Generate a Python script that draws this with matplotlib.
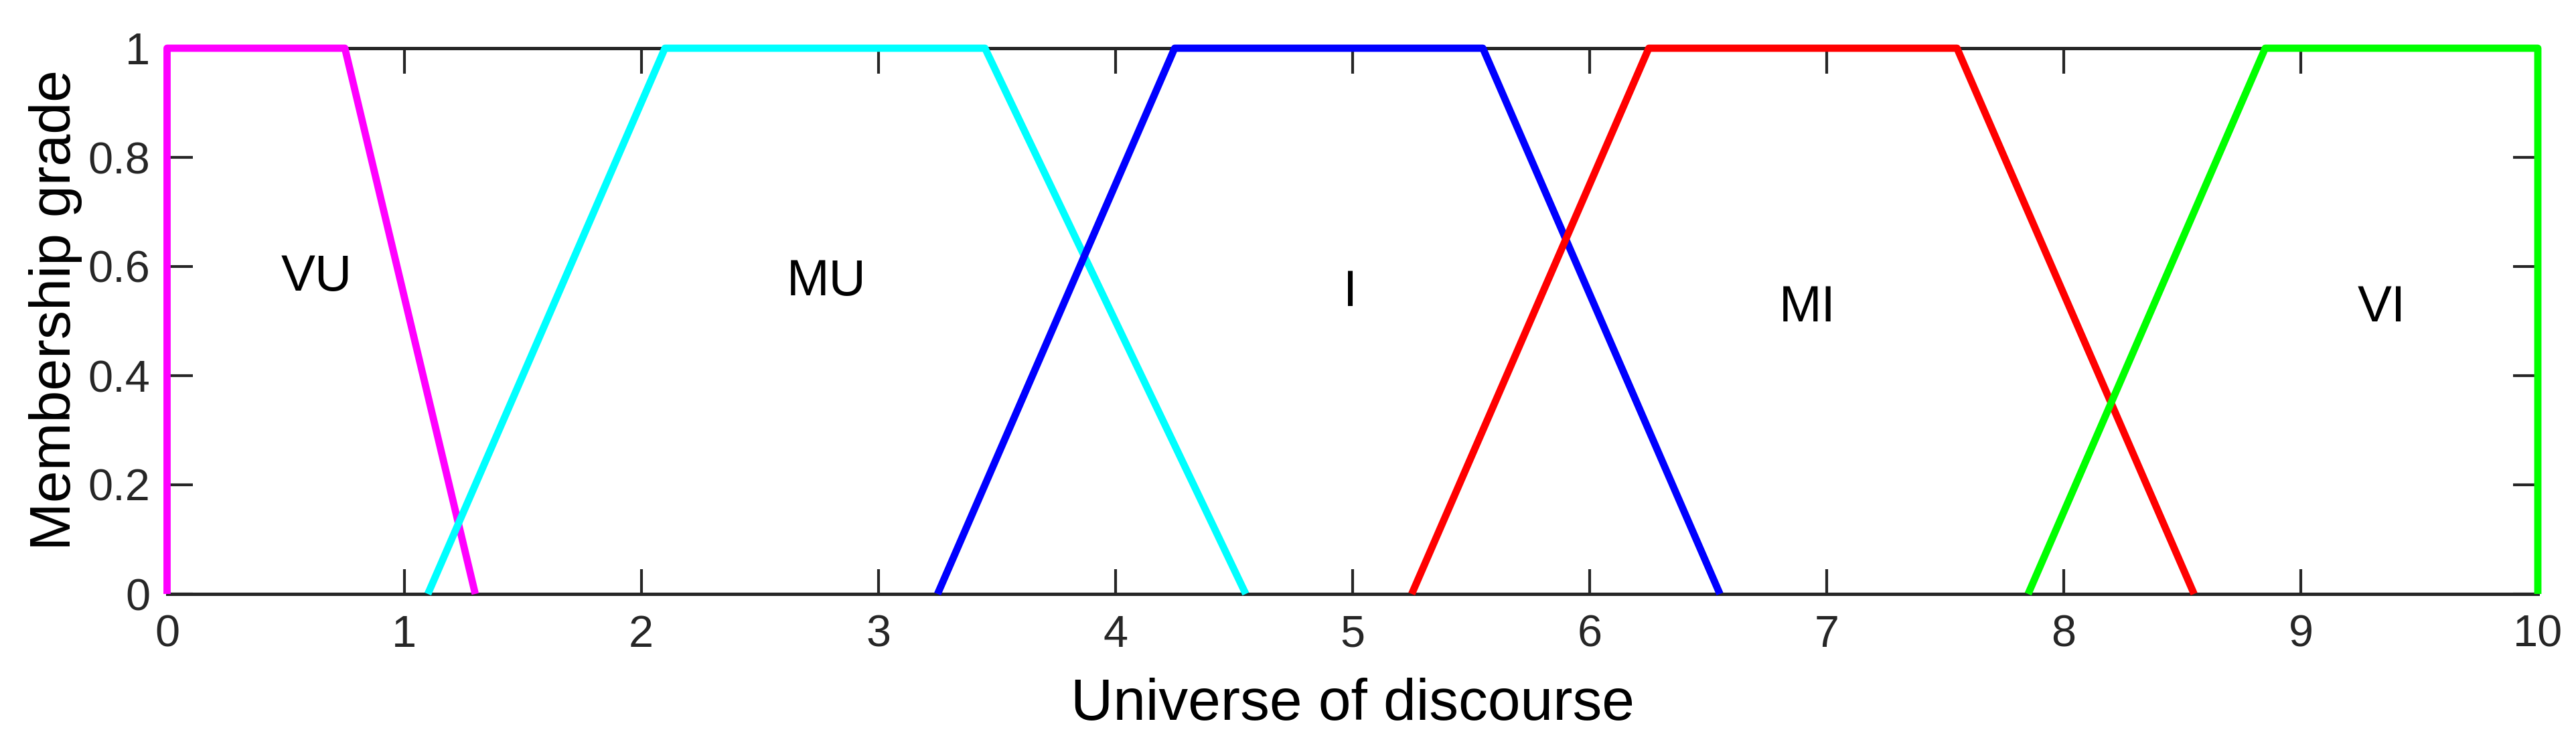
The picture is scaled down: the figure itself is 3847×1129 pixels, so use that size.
import matplotlib
matplotlib.use("Agg")
import matplotlib.pyplot as plt

# Data: trapezoidal membership functions (a, b, c, d)
names = ["VU", "MU", "I", "MI", "VI"]
vu = [0.0, 0.0, 0.75, 1.30]
mu = [1.10, 2.10, 3.45, 4.55]
im = [3.25, 4.25, 5.55, 6.55]
mi = [5.25, 6.25, 7.55, 8.55]
vi = [7.85, 8.85, 10.0, 10.0]
params = [vu, mu, im, mi, vi]
colors = ["#ff00ff", "#00ffff", "#0000ff", "#ff0000", "#00ff00"]
label_x = [0.63, 2.78, 4.99, 6.92, 9.34]
label_y = [0.58, 0.571, 0.552, 0.523, 0.523]
grade = [0, 1, 1, 0]

xticks = list(range(0, 11))
yticks = [0, 0.2, 0.4, 0.6, 0.8, 1]
yticklabels = ["0", "0.2", "0.4", "0.6", "0.8", "1"]

plt.rcParams["font.family"] = ["Liberation Sans", "DejaVu Sans"]

W, H = 3847, 1129
fig = plt.figure(figsize=(W / 100, H / 100), dpi=100)
ax = fig.add_axes([249.5 / W, (H - 887) / H, (3790 - 249.5) / W, (887 - 72) / H])

for p, c in zip(params, colors):
    ax.plot(p, grade, color=c, linewidth=7.8, clip_on=False, zorder=3,
            solid_joinstyle="round", solid_capstyle="butt")

for n, x, y in zip(names, label_x, label_y):
    ax.text(x, y, n, fontsize=55, ha="center", va="center", color="black")

ax.set_xlim(0, 10)
ax.set_ylim(0, 1)
ax.set_xticks(xticks)
ax.set_yticks(yticks)
ax.set_yticklabels(yticklabels)

tc = (0.15, 0.15, 0.15)
for s in ax.spines.values():
    s.set_linewidth(3.6)
    s.set_color(tc)
ax.tick_params(axis="both", which="both", direction="in", length=27, width=3,
               color=tc, labelcolor=tc, labelsize=48, top=True, right=True)
ax.tick_params(axis="x", pad=22)
ax.tick_params(axis="y", pad=18)

ax.set_xlabel("Universe of discourse", fontsize=63, color="black")
ax.set_ylabel("Membership grade", fontsize=62, color="black")
ax.xaxis.set_label_coords(0.5, -0.153)
ax.yaxis.set_label_coords(-0.0356, 0.52)

fig.savefig("out.png", dpi=100, facecolor="white")
